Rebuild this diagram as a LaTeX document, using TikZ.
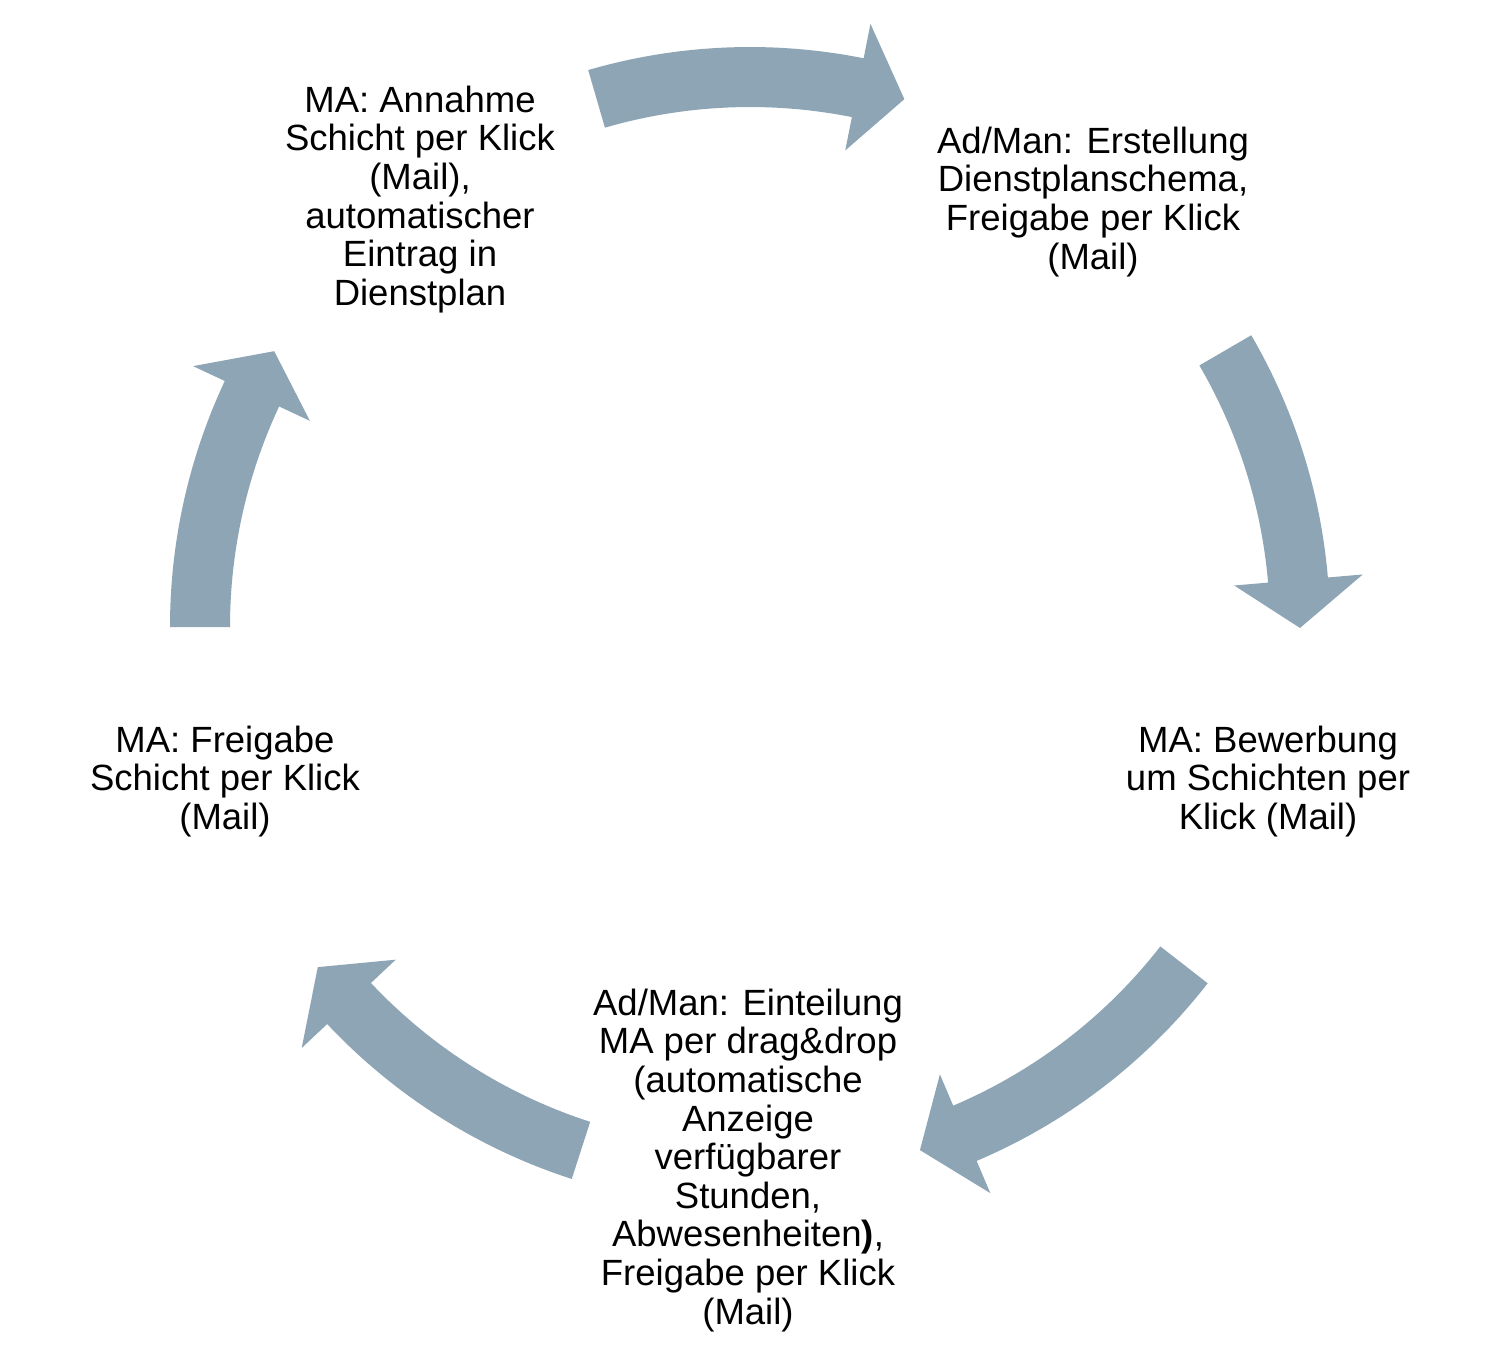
\documentclass[tikz,border=0pt]{standalone}
\usepackage{fontspec}
\setmainfont{Liberation Sans}
\definecolor{arrowfill}{RGB}{141,165,181}
\tikzset{
  lbl/.style={font=\fontsize{36.5}{38.6}\selectfont, align=center, inner sep=0pt, anchor=north, text=black},
  cycarrow/.style={fill=arrowfill}
}
% #1 = tail angle, #2 = angle of the head base (clockwise arrow)
\newcommand\cycarrowshape[2]{%
  \fill[cycarrow] (#1:580) arc[start angle=#1, end angle=#2, radius=580]
    -- (#2:615) -- ({#2-5}:550) -- (#2:486) -- (#2:520)
    arc[start angle=#2, end angle=#1, radius=520] -- cycle;}
\newcommand\fl{\rule{0pt}{30pt}}
\begin{document}
\begin{tikzpicture}[x=1pt,y=1pt]
  \fill[white] (0,0) rectangle (1512,-1366);
  \useasboundingbox (0,0) rectangle (1512,-1366);

  \begin{scope}[shift={(750,-627)}]
    \cycarrowshape{106.2}{78.7}
    \cycarrowshape{30.2}{4.9}
    \cycarrowshape{-37.9}{-67.0}
    \cycarrowshape{-107.9}{-136.8}
    \cycarrowshape{180}{154.9}
  \end{scope}

  \node[lbl] (tl) at (420,-82) {\fl MA: Annahme\\Schicht per Klick\\(Mail),\\automatischer\\Eintrag in\\Dienstplan};
  \node[lbl] (tr) at (1093,-123) {\fl Ad/Man: Erstellung\\Dienstplanschema,\\Freigabe per Klick\\(Mail)};
  \node[lbl] (r) at (1268,-722) {\fl MA: Bewerbung\\um Schichten per\\Klick (Mail)};
  \node[lbl] (b) at (748,-985) {\fl Ad/Man: Einteilung\\MA per drag\&drop\\(automatische\\Anzeige\\verfügbarer\\Stunden,\\Abwesenheiten\textbf{)},\\Freigabe per Klick\\(Mail)};
  \node[lbl] (l) at (225,-722) {\fl MA: Freigabe\\Schicht per Klick\\(Mail)};
\end{tikzpicture}
\end{document}
